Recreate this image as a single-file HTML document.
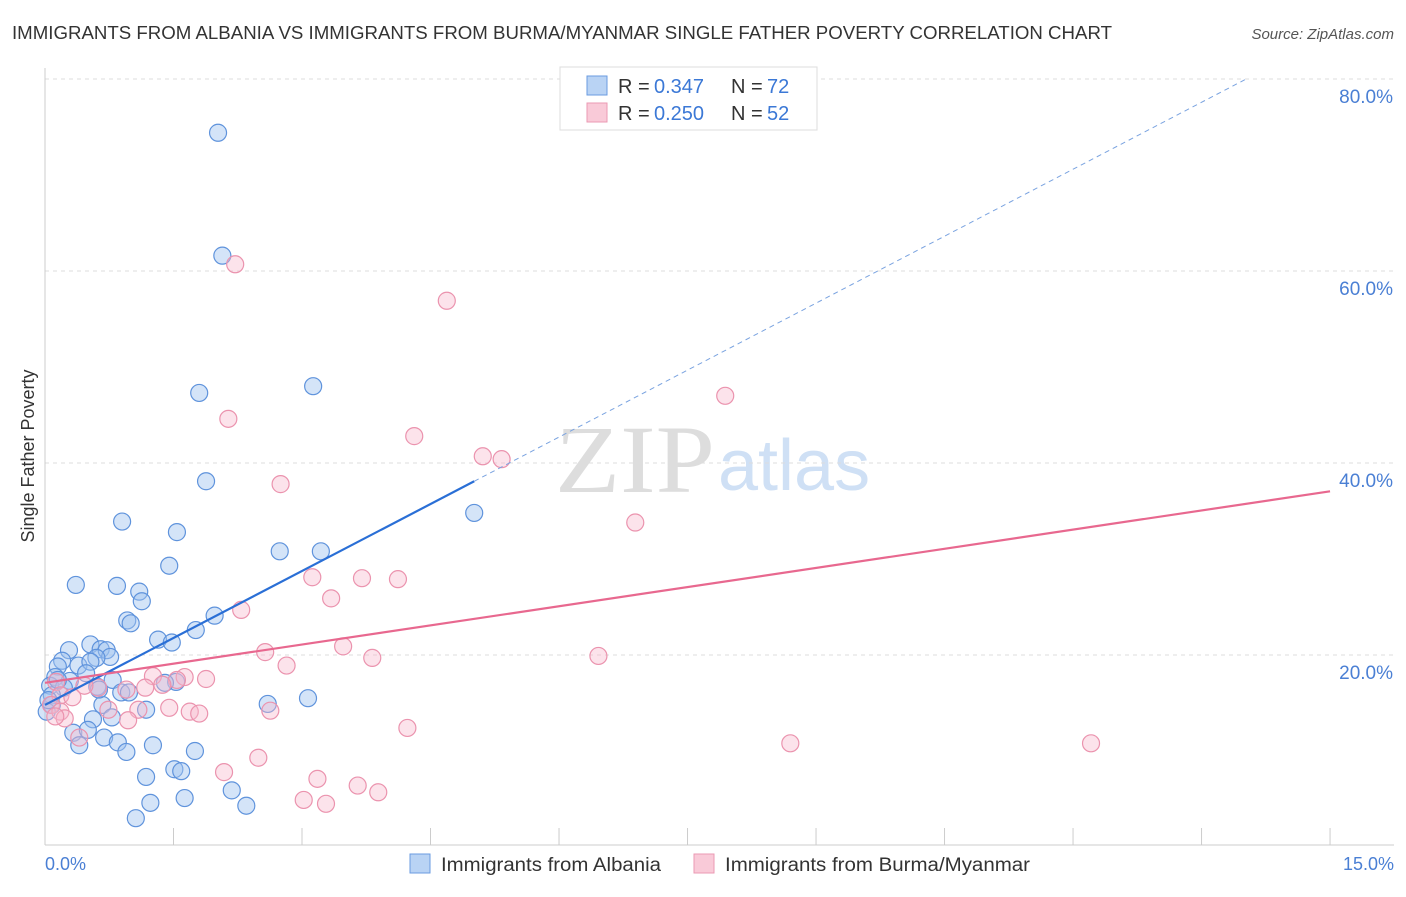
<!DOCTYPE html>
<html><head><meta charset="utf-8"><style>
body{margin:0;background:#fff;font-family:"Liberation Sans",sans-serif}
</style></head><body>
<svg width="1406" height="892" xmlns="http://www.w3.org/2000/svg">
<text x="12" y="39" font-size="18" fill="#333" textLength="1100" lengthAdjust="spacingAndGlyphs">IMMIGRANTS FROM ALBANIA VS IMMIGRANTS FROM BURMA/MYANMAR SINGLE FATHER POVERTY CORRELATION CHART</text>
<text x="1394" y="39" font-size="15" fill="#555" font-style="italic" text-anchor="end">Source: ZipAtlas.com</text>
<text x="555" y="492" font-size="96" font-family="Liberation Serif" fill="#ddd" textLength="160" lengthAdjust="spacingAndGlyphs">ZIP</text>
<text x="718" y="490" font-size="72" fill="#cfe0f5">atlas</text>
<g id="grid"></g>
<line x1="45" y1="68" x2="45" y2="845" stroke="#ccc"/>
<line x1="45" y1="845" x2="1394" y2="845" stroke="#ccc"/>
<text x="34" y="456" font-size="18" fill="#333" text-anchor="middle" transform="rotate(-90 34 456)">Single Father Poverty</text>
<text x="45" y="870" font-size="18" fill="#4a7fd4">0.0%</text>
<text x="1394" y="870" font-size="18" fill="#4a7fd4" text-anchor="end">15.0%</text>
<g id="pts"></g>
<g id="lines"></g>
<g>
<rect x="560" y="67" width="257" height="63" fill="#fff" stroke="#ddd"/>
<rect x="587" y="76" width="20" height="19" fill="#b9d3f4" stroke="#6a9be0"/>
<rect x="587" y="103" width="20" height="19" fill="#f9cad8" stroke="#eb9ab3"/>
<text x="618" y="93" font-size="20" fill="#333">R =</text>
<text x="654" y="93" font-size="20" fill="#3b78d6">0.347</text>
<text x="731" y="93" font-size="20" fill="#333">N =</text>
<text x="767" y="93" font-size="20" fill="#3b78d6">72</text>
<text x="618" y="120" font-size="20" fill="#333">R =</text>
<text x="654" y="120" font-size="20" fill="#3b78d6">0.250</text>
<text x="731" y="120" font-size="20" fill="#333">N =</text>
<text x="767" y="120" font-size="20" fill="#3b78d6">52</text>
</g>
<g>
<rect x="410" y="854" width="20" height="19" fill="#b9d3f4" stroke="#6a9be0"/>
<text x="441" y="871" font-size="19" fill="#333" textLength="220" lengthAdjust="spacingAndGlyphs">Immigrants from Albania</text>
<rect x="694" y="854" width="20" height="19" fill="#f9cad8" stroke="#eb9ab3"/>
<text x="725" y="871" font-size="19" fill="#333" textLength="305" lengthAdjust="spacingAndGlyphs">Immigrants from Burma/Myanmar</text>
</g>
</svg>
<script>
const yTicks=[20,40,60,80];
const yTickLabels=["20.0%","40.0%","60.0%","80.0%"];
const xTicks=[0,1.5,3,4.5,6,7.5,9,10.5,12,13.5,15];
const albaniaX=[2.02,2.07,3.13,1.80,1.88,0.90,1.54,5.01,2.74,3.22,1.45,0.36,0.84,1.10,1.13,0.96,1.00,1.98,1.76,1.32,1.48,0.53,0.28,0.65,0.72,0.76,0.60,0.20,0.39,0.15,0.53,0.48,0.12,0.29,0.06,0.22,0.08,0.79,1.53,1.40,0.89,0.98,0.61,2.60,3.07,1.18,0.67,0.08,0.02,0.56,0.78,0.33,0.50,0.69,0.85,0.40,0.95,1.26,1.75,1.51,1.59,1.18,1.63,1.23,2.18,2.35,1.06,0.15,0.04,0.63];
const albaniaY=[74.4,61.6,48.0,47.3,38.1,33.9,32.8,34.8,30.8,30.8,29.3,27.3,27.2,26.6,25.6,23.6,23.3,24.1,22.6,21.6,21.3,21.1,20.5,20.6,20.5,19.8,19.7,19.4,18.9,18.8,19.3,18.1,17.7,17.3,16.8,16.6,15.8,17.4,17.2,17.1,16.1,16.1,16.7,14.9,15.5,14.3,14.8,14.8,14.1,13.3,13.5,11.9,12.2,11.4,10.9,10.6,9.9,10.6,10.0,8.1,7.9,7.3,5.1,4.6,5.9,4.3,3.0,17.4,15.3,16.4];
const burmaX=[2.22,4.69,7.94,2.14,4.31,5.11,5.33,2.75,6.89,3.12,3.70,4.12,3.34,2.29,3.48,2.57,3.82,6.46,2.82,1.26,1.63,1.88,1.54,1.17,1.37,0.95,0.62,0.46,0.13,0.18,0.32,0.07,0.18,0.23,0.12,0.74,1.09,1.45,1.69,1.80,2.63,0.97,0.40,4.23,2.09,2.49,3.18,3.02,3.28,3.65,3.89,8.70,12.21];
const burmaY=[60.7,56.9,47.0,44.6,42.8,40.7,40.4,37.8,33.8,28.1,28.0,27.9,25.9,24.7,20.9,20.3,19.7,19.9,18.9,17.8,17.7,17.5,17.4,16.6,16.9,16.4,16.6,16.8,17.2,15.8,15.6,14.8,14.1,13.4,13.6,14.3,14.3,14.5,14.1,13.9,14.2,13.2,11.4,12.4,7.8,9.3,7.1,4.9,4.5,6.4,5.7,10.8,10.8];
const albaniaFit=[14.8,4.65];
const burmaFit=[17.1,1.33];
const NS="http://www.w3.org/2000/svg";
const sx=v=>45+v*85.67, sy=v=>847-v*9.6;
function mk(t,a,p){const e=document.createElementNS(NS,t);for(const k in a)e.setAttribute(k,a[k]);p.appendChild(e);return e;}
const grid=document.getElementById('grid');
yTicks.forEach((t,i)=>{
 const l=mk('line',{x1:45,x2:1394,y1:sy(t),y2:sy(t),stroke:'#ddd','stroke-dasharray':'4,4'},grid);
 
 
 const tx=mk('text',{x:1393,y:sy(t)+24,'font-size':19,fill:'#4a7fd4','text-anchor':'end'},grid);
 tx.textContent=yTickLabels[i];
 
 
});
xTicks.forEach(t=>{
 const l=mk('line',{x1:sx(t),x2:sx(t),y1:828,y2:845,stroke:'#ccc'},grid);
 
 
});
const pts=document.getElementById('pts');
albaniaX.forEach((x,i)=>{
 const c=mk('circle',{cx:sx(x),cy:sy(albaniaY[i]),r:8.5,fill:'rgba(160,196,240,0.45)',stroke:'#5f93dc','stroke-width':1.2},pts);
 
 
});
burmaX.forEach((x,i)=>{
 const c=mk('circle',{cx:sx(x),cy:sy(burmaY[i]),r:8.5,fill:'rgba(248,184,204,0.4)',stroke:'#eb93ae','stroke-width':1.2},pts);
 
 
});
const lines=document.getElementById('lines');
const f=(fit,x)=>fit[0]+fit[1]*x;
let l1=mk('line',{x1:sx(0),y1:sy(f(albaniaFit,0)),x2:sx(5.01),y2:sy(f(albaniaFit,5.01)),stroke:'#2a6fd6','stroke-width':2.2},lines);


const xe=(80-albaniaFit[0])/albaniaFit[1];
let l2=mk('line',{x1:sx(5.01),y1:sy(f(albaniaFit,5.01)),x2:sx(xe),y2:sy(80),stroke:'#7aa3e0','stroke-width':1,'stroke-dasharray':'5,4'},lines);


let l3=mk('line',{x1:sx(0),y1:sy(f(burmaFit,0)),x2:sx(15),y2:sy(f(burmaFit,15)),stroke:'#e8688f','stroke-width':2.2},lines);


</script>
</body></html>
